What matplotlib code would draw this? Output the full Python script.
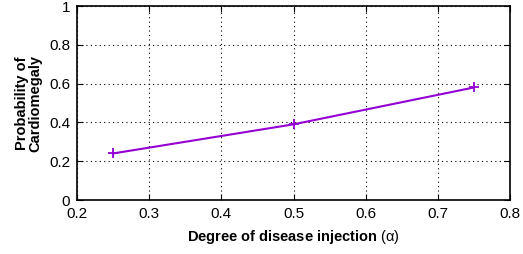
import matplotlib
matplotlib.use("Agg")
import matplotlib.pyplot as plt

plt.rcParams['font.family'] = ['Liberation Sans', 'DejaVu Sans']
plt.rcParams['mathtext.fontset'] = 'custom'
plt.rcParams['mathtext.rm'] = 'Liberation Sans'

alpha = [0.25, 0.5, 0.75]
prob = [0.24, 0.39, 0.58]
xticks = [0.2, 0.3, 0.4, 0.5, 0.6, 0.7, 0.8]
yticks = [0, 0.2, 0.4, 0.6, 0.8, 1]

fig = plt.figure(figsize=(5.23, 2.54), dpi=100)
ax = fig.add_axes([77/523, 1-200/254, (510-77)/523, (200-6)/254])
ax.plot(alpha, prob, color='#9400D3', lw=1.5, marker='+', ms=7, mew=1.3)
ax.set_xlim(0.2, 0.8)
ax.set_ylim(0, 1)
ax.set_xticks(xticks)
ax.set_xticklabels([f"{t:g}" for t in xticks])
ax.set_yticks(yticks)
ax.set_yticklabels([f"{t:g}" for t in yticks])
ax.grid(True, linestyle=(0, (1, 3)), color='black', lw=0.8)
ax.tick_params(direction='in', top=True, right=True, labelsize=11, length=4, width=0.8, pad=5)
for s in ax.spines.values():
    s.set_linewidth(1.2)
ax.set_xlabel(r"Degree of disease injection $\mathrm{(}\mathrm{\alpha}\mathrm{)}$", fontsize=10.5, fontweight='bold', labelpad=5)
ax.set_ylabel("Probability of\nCardiomegaly", fontsize=10.5, fontweight='bold', labelpad=5, linespacing=0.9)
fig.savefig("out.png", dpi=100)
